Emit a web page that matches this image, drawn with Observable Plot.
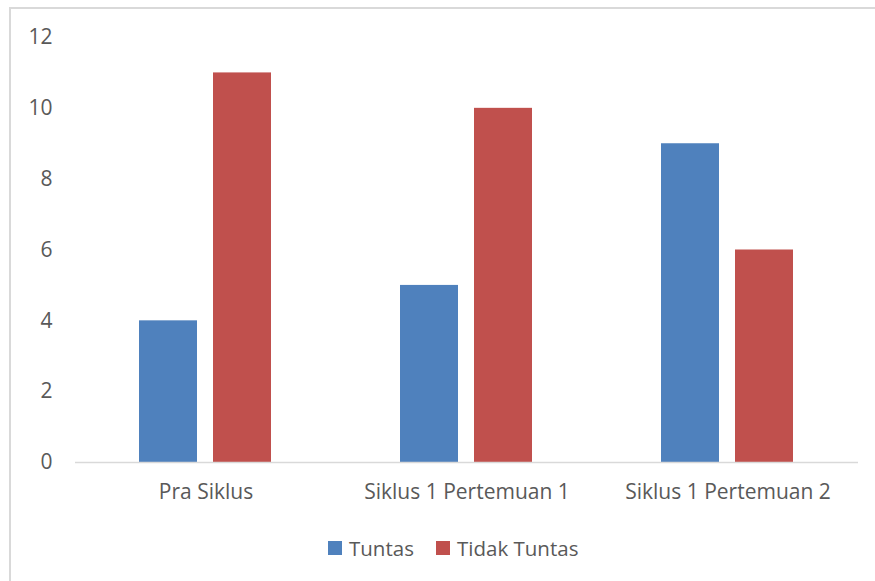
<!DOCTYPE html>
<html>
<head>
<meta charset="utf-8">
<script src="https://cdn.jsdelivr.net/npm/d3@7"></script>
<script src="https://cdn.jsdelivr.net/npm/@observablehq/plot@0.6"></script>
<style>
  html, body { margin: 0; padding: 0; background: #fff; }
  body { width: 875px; height: 581px; position: relative; overflow: hidden; font-family: "Open Sans", sans-serif; }
  #frame { position: absolute; left: 9px; top: 7px; right: -4px; bottom: -4px; border-left: 2px solid #d9d9d9; border-top: 2px solid #d9d9d9; pointer-events: none; }
  #chart { position: absolute; left: 0; top: 0; }
  #legend { position: absolute; left: 0; top: 535px; width: 875px; height: 26px; font-size: 20.5px; color: #595959; }
  .item { position: absolute; top: 0; display: flex; align-items: center; height: 26px; }
  .sw { width: 14px; height: 14px; margin-right: 7px; }
</style>
</head>
<body>
<div id="chart"></div>
<div id="legend"></div>
<div id="frame"></div>
<script>
const categories = ["Pra Siklus", "Siklus 1 Pertemuan 1", "Siklus 1 Pertemuan 2"];
const series = ["Tuntas", "Tidak Tuntas"];
const tuntas = [4, 5, 9];
const tidakTuntas = [11, 10, 6];
const colors = ["#4F81BD", "#C0504D"];
const yTicks = [0, 2, 4, 6, 8, 10, 12];

const data = [];
categories.forEach((c, i) => {
  data.push({category: c, series: series[0], value: tuntas[i]});
  data.push({category: c, series: series[1], value: tidakTuntas[i]});
});

const chart = Plot.plot({
  width: 875,
  height: 520,
  marginLeft: 75,
  marginRight: 17,
  marginTop: 37,
  marginBottom: 58,
  style: {fontFamily: "'Open Sans', sans-serif", fontSize: "21px", color: "#595959", background: "transparent"},
  fx: {domain: categories, padding: 0, label: null},
  x: {domain: series, paddingInner: 0.21, paddingOuter: 0.86, axis: null},
  y: {domain: [0, 12], label: null},
  color: {domain: series, range: colors},
  marks: [
    Plot.gridY(yTicks, {stroke: "#d9d9d9", strokeOpacity: 1, strokeWidth: 1.5, x1: 75, x2: 858}),
    Plot.barY(data, {fx: "category", x: "series", y: "value", fill: "series"}),
    Plot.ruleY([0], {stroke: "#d9d9d9", strokeWidth: 1.5}),
    Plot.axisY(yTicks, {tickSize: 0, tickPadding: 23, fontSize: 21, fill: "#595959", label: null}),
    Plot.axisFx({anchor: "bottom", tickSize: 0, tickPadding: 22, fontSize: 21, fill: "#595959", label: null})
  ]
});
document.getElementById("chart").appendChild(chart);

const legend = document.getElementById("legend");
const lefts = [328, 436];
series.forEach((s, i) => {
  const item = document.createElement("div");
  item.className = "item";
  item.style.left = lefts[i] + "px";
  const sw = document.createElement("div");
  sw.className = "sw";
  sw.style.background = colors[i];
  const t = document.createElement("span");
  t.textContent = s;
  item.appendChild(sw);
  item.appendChild(t);
  legend.appendChild(item);
});
</script>
</body>
</html>
